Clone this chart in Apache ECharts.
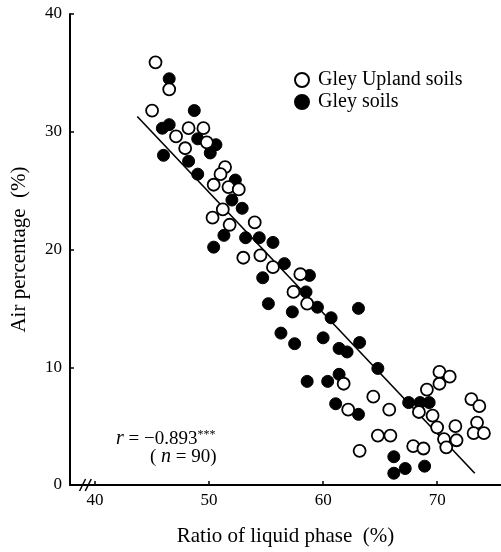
<!DOCTYPE html>
<html><head><meta charset="utf-8">
<script src="https://cdn.jsdelivr.net/npm/echarts@6/dist/echarts.min.js"></script>
<style>html,body{margin:0;padding:0;background:#fff}#c{width:501px;height:552px}</style>
</head><body><div id="c"></div>
<script>
// Tick values
const xTicks = [40, 50, 60, 70];
const yTicks = [0, 10, 20, 30, 40];

// Gley Upland soils (open circles): [ratio of liquid phase %, air percentage %]
const uplandPoints = [
  [45.3, 35.9], [46.5, 33.6], [45.0, 31.8], [48.2, 30.3], [49.5, 30.3],
  [47.1, 29.6], [49.8, 29.1], [47.9, 28.6], [51.4, 27.0], [51.0, 26.4],
  [50.4, 25.5], [51.7, 25.3], [52.6, 25.1], [51.2, 23.4], [50.3, 22.7],
  [51.8, 22.1], [54.0, 22.3], [53.0, 19.3], [54.5, 19.5], [55.6, 18.5],
  [58.0, 17.9], [57.4, 16.4], [58.6, 15.4], [61.8, 8.6], [64.4, 7.5],
  [62.2, 6.4], [65.8, 6.4], [64.8, 4.2], [65.9, 4.2], [63.2, 2.9],
  [70.2, 9.6], [71.1, 9.2], [70.2, 8.6], [69.1, 8.1], [73.0, 7.3],
  [73.7, 6.7], [68.4, 6.2], [69.6, 5.9], [73.5, 5.3], [70.0, 4.9],
  [71.6, 5.0], [73.2, 4.4], [74.1, 4.4], [70.6, 3.9], [71.7, 3.8],
  [70.8, 3.2], [67.9, 3.3], [68.8, 3.1]
];

// Gley soils (filled circles)
const gleyPoints = [
  [46.5, 34.5], [48.7, 31.8], [46.5, 30.6], [45.9, 30.3], [49.0, 29.4],
  [50.6, 28.9], [50.1, 28.2], [46.0, 28.0], [48.2, 27.5], [49.0, 26.4],
  [52.3, 25.9], [52.0, 24.2], [52.9, 23.5], [51.3, 21.2], [53.2, 21.0],
  [54.4, 21.0], [55.6, 20.6], [50.4, 20.2], [56.6, 18.8], [54.7, 17.6],
  [58.8, 17.8], [58.5, 16.4], [59.5, 15.1], [55.2, 15.4], [57.3, 14.7],
  [63.1, 15.0], [60.7, 14.2], [56.3, 12.9], [57.5, 12.0], [60.0, 12.5],
  [61.4, 11.6], [62.1, 11.3], [63.2, 12.1], [64.8, 9.9], [58.6, 8.8],
  [60.4, 8.8], [61.4, 9.4], [61.1, 6.9], [63.1, 6.0], [66.2, 2.4],
  [66.2, 1.0], [67.2, 1.4], [68.9, 1.6], [67.5, 7.0], [68.5, 7.0],
  [69.3, 7.0]
];

// Regression line end points
const regressionLine = [[43.7, 31.3], [73.3, 1.0]];

const serif = '"Liberation Serif", "DejaVu Serif", serif';

const chart = echarts.init(document.getElementById('c'), null, { renderer: 'canvas' });
chart.setOption({
  animation: false,
  backgroundColor: '#fff',
  grid: { left: 70, right: 0, top: 14, bottom: 66 },
  xAxis: {
    type: 'value', min: 37.8, max: 75.6,
    name: 'Ratio of liquid phase  (%)',
    nameLocation: 'middle', nameGap: 41,
    nameTextStyle: { fontFamily: serif, fontSize: 21, color: '#000' },
    axisLine: { lineStyle: { color: '#000', width: 2 } },
    axisTick: { inside: true, length: 4, customValues: xTicks, lineStyle: { color: '#000', width: 1.5 } },
    axisLabel: { customValues: xTicks, fontFamily: serif, fontSize: 17, color: '#000', margin: 7 },
    splitLine: { show: false }
  },
  yAxis: {
    type: 'value', min: 0, max: 40, interval: 10,
    name: 'Air percentage  (%)',
    nameLocation: 'middle', nameGap: 40, nameRotate: 90,
    nameTextStyle: { fontFamily: serif, fontSize: 21, color: '#000' },
    axisLine: { lineStyle: { color: '#000', width: 2 } },
    axisTick: { inside: true, length: 4, lineStyle: { color: '#000', width: 1.5 } },
    axisLabel: { fontFamily: serif, fontSize: 17, color: '#000', margin: 8 },
    splitLine: { show: false }
  },
  legend: {
    data: ['Gley Upland soils', 'Gley soils'],
    orient: 'vertical', left: 289, top: 65,
    itemWidth: 14, itemHeight: 14, itemGap: 2,
    icon: 'circle',
    textStyle: { fontFamily: serif, fontSize: 20, lineHeight: 15, color: '#000', padding: [0, 0, 0, 4] }
  },
  title: [
    {
      text: '{i|r} = −0.893{s|***}', left: 111, top: 424,
      textStyle: { fontFamily: serif, fontSize: 19, fontWeight: 'normal', color: '#000',
        rich: { i: { fontFamily: serif, fontSize: 20, fontStyle: 'italic', color: '#000' },
                s: { fontFamily: serif, fontSize: 12, color: '#000', verticalAlign: 'top', padding: [0,0,7,0] } } }
    },
    {
      text: '( {i|n} = 90)', left: 145, top: 442,
      textStyle: { fontFamily: serif, fontSize: 19, fontWeight: 'normal', color: '#000',
        rich: { i: { fontFamily: serif, fontSize: 20, fontStyle: 'italic', color: '#000' } } }
    }
  ],
  series: [
    {
      name: 'Gley soils', type: 'scatter', data: gleyPoints, symbol: 'circle', symbolSize: 12,
      itemStyle: { color: '#000', borderColor: '#000', borderWidth: 1, opacity: 1 }, z: 3
    },
    {
      name: 'Gley Upland soils', type: 'scatter', data: uplandPoints, symbol: 'circle', symbolSize: 12,
      itemStyle: { color: '#fff', borderColor: '#000', borderWidth: 1.8, opacity: 1 }, z: 4
    },
    {
      name: 'regression', type: 'line', data: regressionLine, showSymbol: false, symbol: 'none',
      lineStyle: { color: '#000', width: 1.6 }, silent: true, z: 2
    }
  ]
});

// axis break mark on the x axis, placed from the axis scale
const bx1 = chart.convertToPixel({ xAxisIndex: 0 }, 38.9);
const bx2 = chart.convertToPixel({ xAxisIndex: 0 }, 39.4);
const by = chart.convertToPixel({ yAxisIndex: 0 }, 0);
chart.setOption({
  graphic: [
    { type: 'line', shape: { x1: bx1 - 3, y1: by + 6, x2: bx1 + 3, y2: by - 6 }, style: { stroke: '#000', lineWidth: 1.5 } },
    { type: 'line', shape: { x1: bx2 - 3, y1: by + 6, x2: bx2 + 3, y2: by - 6 }, style: { stroke: '#000', lineWidth: 1.5 } }
  ]
});
</script></body></html>
